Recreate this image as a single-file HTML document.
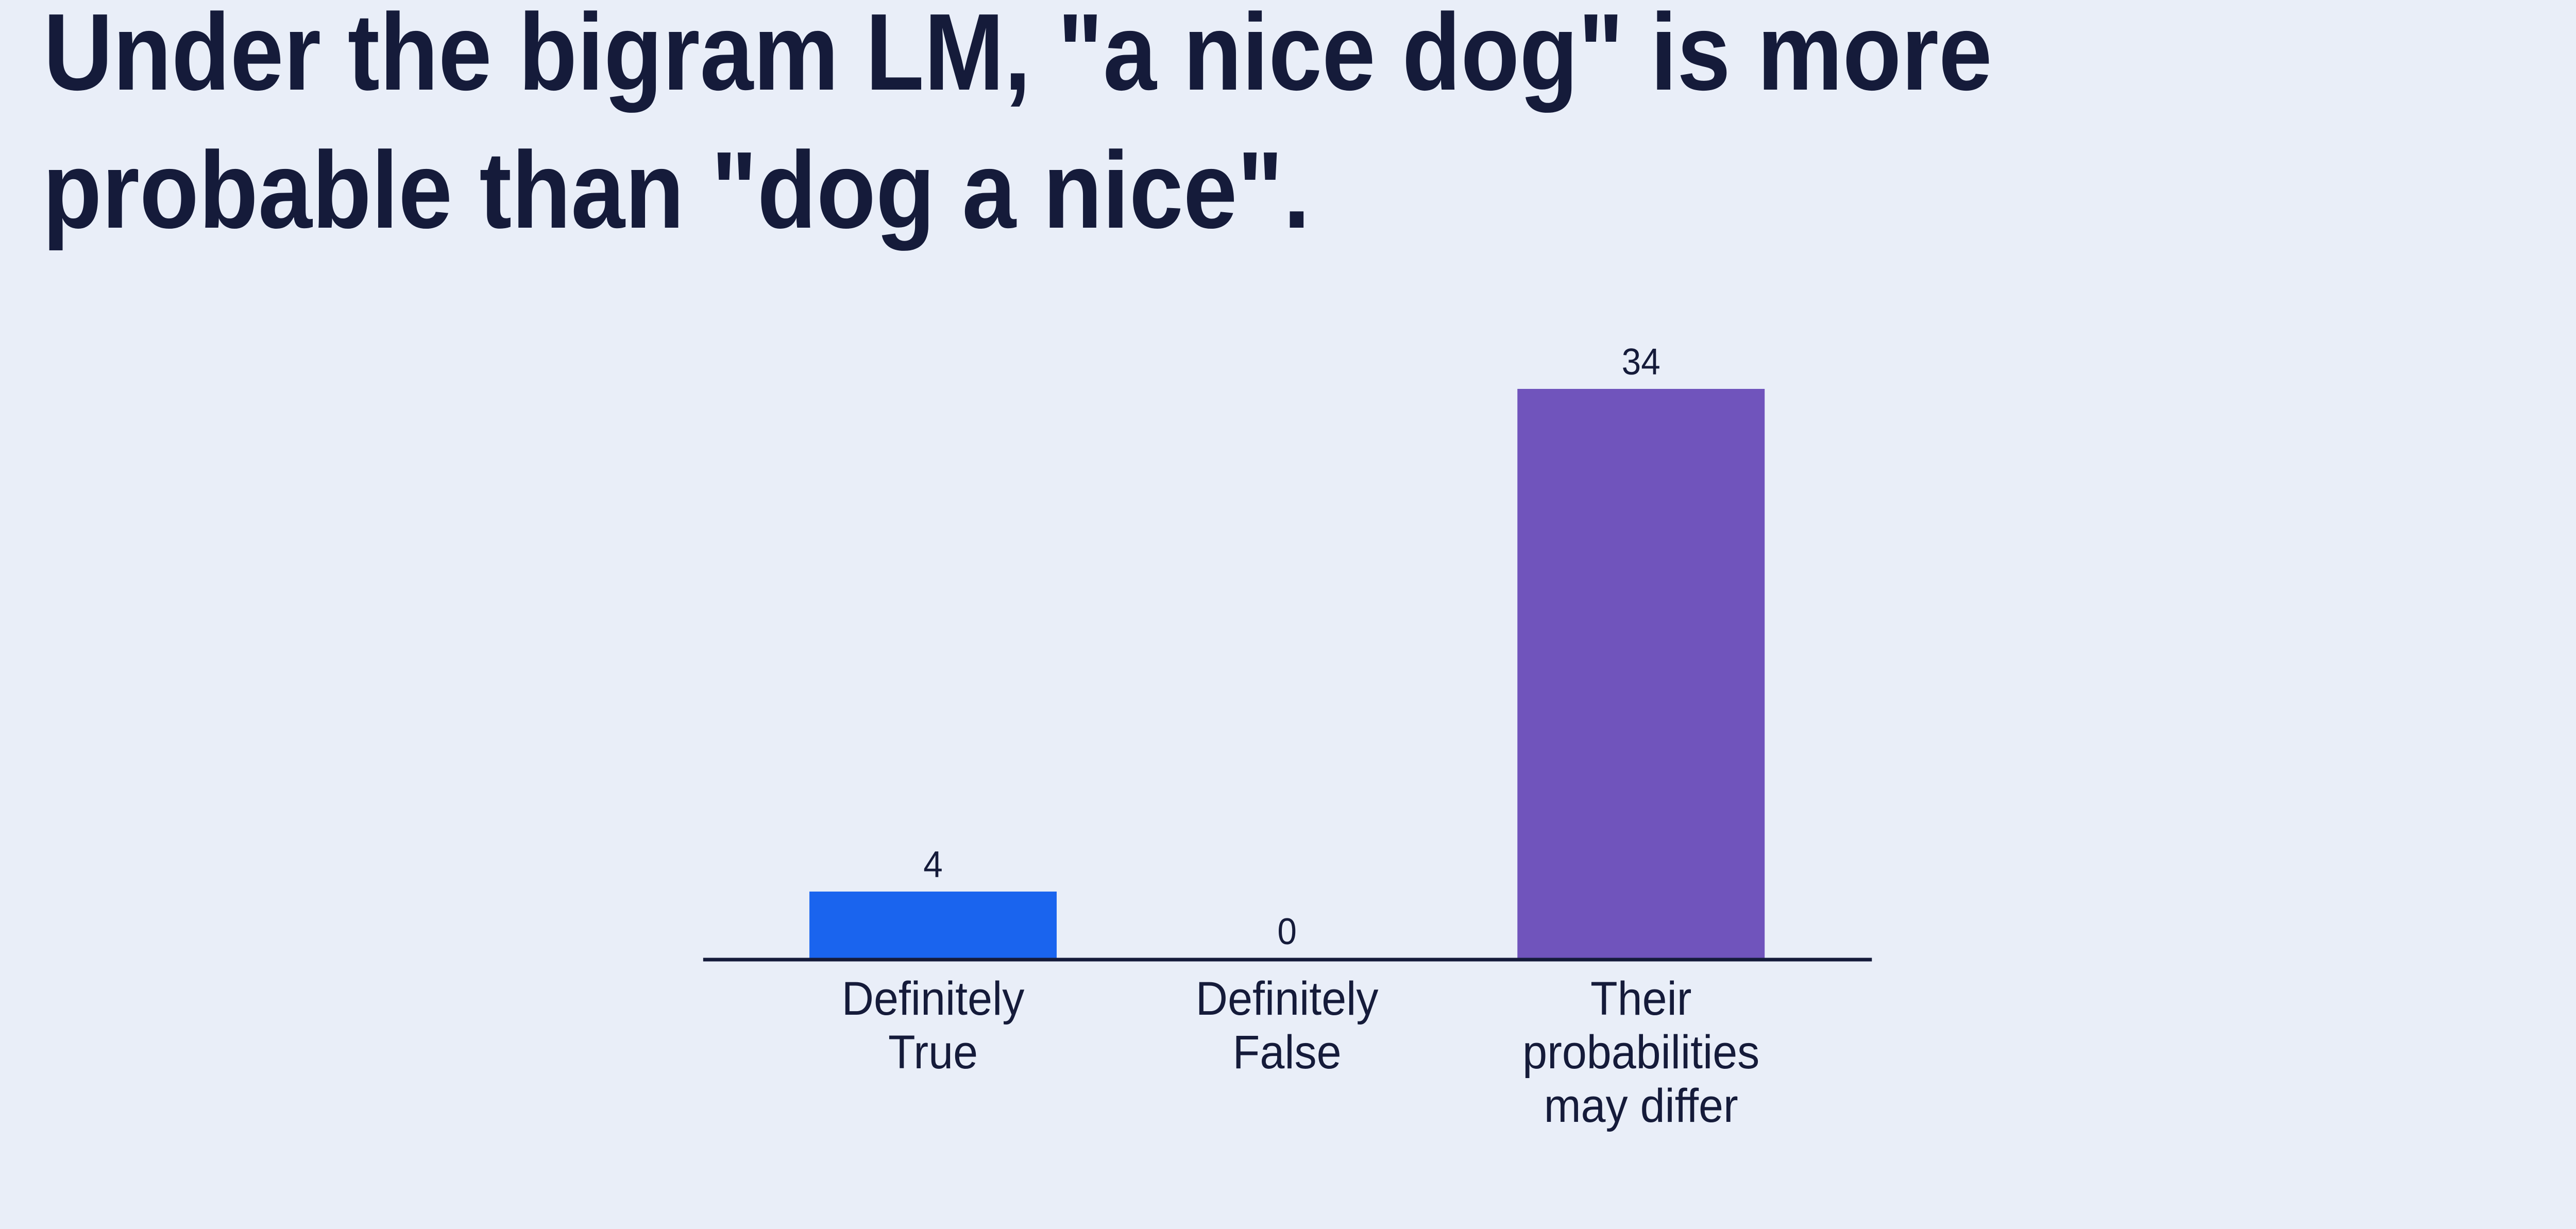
<!DOCTYPE html>
<html><head><meta charset="utf-8"><style>
html,body{margin:0;padding:0;background:#e9eef8;width:100%;height:100%;overflow:hidden;}
svg{display:block;width:100vw;height:100vh;}
</style></head><body>
<svg id="chart" viewBox="0 0 5334 2386" preserveAspectRatio="none" xmlns="http://www.w3.org/2000/svg" font-family="'Liberation Sans', sans-serif">
<rect x="0" y="0" width="5334" height="2386" fill="#e9eef8"/>
<text x="90" y="174" font-size="212" font-weight="bold" fill="#151b3a" textLength="4035" lengthAdjust="spacingAndGlyphs">Under the bigram LM, "a nice dog" is more</text>
<text x="88" y="442" font-size="212" font-weight="bold" fill="#151b3a" textLength="2625" lengthAdjust="spacingAndGlyphs">probable than "dog a nice".</text>
<g id="marks"></g>
<line x1="1456" y1="1863" x2="3876" y2="1863" stroke="#151b3a" stroke-width="7"/>
</svg>
<script>
const categories = [["Definitely","True"],["Definitely","False"],["Their","probabilities","may differ"]];
const values = [4, 0, 34];
const valueLabels = ["4", "0", "34"];
const colors = ["#1a64ee", "#1a64ee", "#7054bc"];

const NS = "http://www.w3.org/2000/svg";
const g = document.getElementById("marks");
const baseY = 1861, topY = 755, maxV = 34;
const yScale = v => baseY - (baseY - topY) * v / maxV;
const xCenter = i => 1932 + i * 733;
const barW = 512;

values.forEach((v, i) => {
  const cx = xCenter(i);
  const y = yScale(v);
  if (v > 0) {
    const r = document.createElementNS(NS, "rect");
    r.setAttribute("x", cx - barW / 2);
    r.setAttribute("y", y);
    r.setAttribute("width", barW);
    r.setAttribute("height", baseY - y);
    r.setAttribute("fill", colors[i]);
    
    
    g.appendChild(r);
  }
  const t = document.createElementNS(NS, "text");
  t.setAttribute("x", cx);
  t.setAttribute("y", y - 28);
  t.setAttribute("text-anchor", "middle");
  t.setAttribute("font-size", "72");
  t.setAttribute("fill", "#151b3a");
  t.textContent = valueLabels[i];
  
  
  g.appendChild(t);
  categories[i].forEach((line, j) => {
    const c = document.createElementNS(NS, "text");
    c.setAttribute("x", cx);
    c.setAttribute("y", 1970 + j * 104);
    c.setAttribute("text-anchor", "middle");
    c.setAttribute("font-size", "92");
    c.setAttribute("fill", "#151b3a");
    c.textContent = line;
    
    
    g.appendChild(c);
  });
});
</script>
</body></html>
